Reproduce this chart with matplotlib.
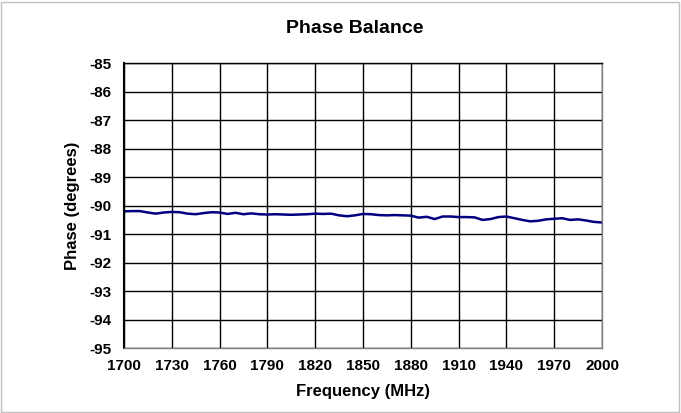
import matplotlib.pyplot as plt
import numpy as np

# Frequency points (MHz) and measured phase (degrees)
freq = [1700, 1705, 1710, 1715, 1720, 1725, 1730, 1735, 1740, 1745,
        1750, 1755, 1760, 1765, 1770, 1775, 1780, 1785, 1790, 1795,
        1800, 1805, 1810, 1815, 1820, 1825, 1830, 1835, 1840, 1845,
        1850, 1855, 1860, 1865, 1870, 1875, 1880, 1885, 1890, 1895,
        1900, 1905, 1910, 1915, 1920, 1925, 1930, 1935, 1940, 1945,
        1950, 1955, 1960, 1965, 1970, 1975, 1980, 1985, 1990, 1995, 2000]
phase = [-90.20, -90.19, -90.19, -90.24, -90.28, -90.24, -90.22, -90.23, -90.28, -90.30,
         -90.26, -90.23, -90.24, -90.29, -90.25, -90.30, -90.27, -90.30, -90.31, -90.30,
         -90.31, -90.32, -90.31, -90.30, -90.28, -90.29, -90.28, -90.34, -90.37, -90.34,
         -90.29, -90.30, -90.33, -90.34, -90.33, -90.34, -90.35, -90.42, -90.39, -90.47,
         -90.38, -90.38, -90.40, -90.40, -90.41, -90.50, -90.47, -90.40, -90.38, -90.44,
         -90.50, -90.55, -90.53, -90.48, -90.46, -90.44, -90.50, -90.48, -90.52, -90.57, -90.59]

x_ticks = list(range(1700, 2001, 30))
y_ticks = list(range(-95, -84, 1))

plt.rcParams['font.family'] = ['Liberation Sans', 'DejaVu Sans']
plt.rcParams['font.weight'] = 'bold'
plt.rcParams['axes.unicode_minus'] = False

fig = plt.figure(figsize=(6.81, 4.13), dpi=100)
ax = fig.add_axes([0.182, 0.157, 0.702, 0.690])

ax.plot(freq, phase, color='#000080', linewidth=1.8)

ax.set_xlim(1700, 2000)
ax.set_ylim(-95, -85)
ax.set_xticks(x_ticks)
ax.set_yticks(y_ticks)
ax.tick_params(length=0, labelsize=11)
ax.tick_params(axis='x', pad=8)
ax.tick_params(axis='y', pad=9)
for lbl in ax.get_xticklabels() + ax.get_yticklabels():
    lbl.set_fontweight('bold')
ax.grid(True, color='black', linewidth=1.0)
ax.set_axisbelow(True)
for s in ax.spines.values():
    s.set_color('#808080')
    s.set_linewidth(1.0)
ax.spines['left'].set_color('black')
ax.spines['left'].set_linewidth(1.5)
ax.spines['top'].set_color('black')

ax.set_xlabel('Frequency (MHz)', fontsize=12, fontweight='bold')
ax.xaxis.label.set_va('center')
ax.xaxis.set_label_coords(0.5, -0.151)
ax.set_ylabel('Phase (degrees)', fontsize=12, fontweight='bold')
ax.yaxis.label.set_va('center')
ax.yaxis.set_label_coords(-0.107, 0.5)
fig.text(0.521, 0.93, 'Phase Balance', ha='center', va='center',
         fontsize=14, fontweight='bold')

# light frame around the chart area
fig.patches.append(plt.Rectangle((0.002, 0.003), 0.995, 0.993, transform=fig.transFigure,
                                 fill=False, edgecolor='#c0c0c0', linewidth=1))

fig.savefig('out.png', dpi=100)
